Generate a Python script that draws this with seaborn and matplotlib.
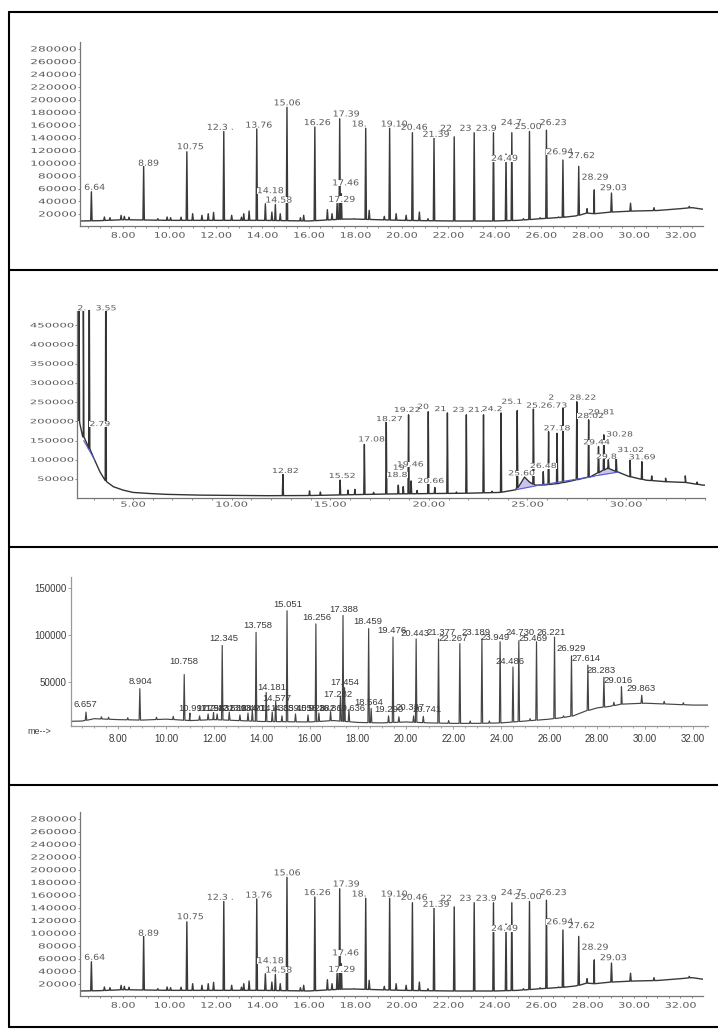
import numpy as np
import pandas as pd
import matplotlib
matplotlib.use("Agg")
import matplotlib.pyplot as plt
import matplotlib.patheffects as pe
from matplotlib.transforms import Affine2D, ScaledTranslation
from matplotlib.lines import Line2D
from matplotlib.patches import Rectangle
from matplotlib.ticker import MultipleLocator
import seaborn as sns

# ======================= DATA =======================
# ---- Panel 1 (and identical panel 4) ----
A_xticks = [8, 10, 12, 14, 16, 18, 20, 22, 24, 26, 28, 30, 32]
A_yticks = [20000, 40000, 60000, 80000, 100000, 120000, 140000, 160000,
            180000, 200000, 220000, 240000, 260000, 280000]
A_base_t = [6.15, 7.0, 8.0, 10.0, 12.0, 14.0, 16.0, 17.5, 18.0, 20.0, 22.0, 24.0,
            25.0, 26.0, 27.0, 27.5, 28.0, 28.3, 29.0, 30.0, 31.0, 32.0, 32.5, 32.97]
A_base_v = [9000, 9500, 11000, 10000, 10000, 10000, 9000, 12000, 12000, 10000, 9000, 9000,
            10000, 12600, 15000, 17000, 21500, 20500, 23000, 24700, 25500, 28400, 30000, 27500]
A_peak_t = [6.64, 8.89, 10.75, 12.34, 13.76, 14.13, 14.56, 15.06, 16.26, 17.22, 17.33, 17.40,
            18.45, 19.48, 20.46, 21.39, 22.26, 23.12, 23.95, 24.49, 24.74, 25.50, 26.23,
            26.94, 27.62, 28.29, 29.03, 29.85]
A_peak_h = [55000, 96000, 118000, 150000, 154000, 36000, 35000, 188000, 157000, 38000, 170000,
            52000, 155000, 155000, 148000, 142000, 141500, 148000, 148000, 114500, 148000,
            150000, 152000, 105000, 95000, 58000, 53000, 37000]
A_minor_t = [7.2, 7.44, 7.92, 8.06, 8.26, 9.5, 9.9, 10.05, 10.5, 11.0, 11.4, 11.67, 11.9,
             12.68, 13.1, 13.2, 13.43, 14.41, 14.77, 15.64, 15.78, 16.8, 17.0, 17.95, 18.6,
             19.25, 19.76, 20.19, 20.76, 21.13, 25.24, 25.96, 26.75, 27.98, 30.86, 32.38]
A_minor_h = [15300, 14200, 17900, 16300, 15000, 12600, 15300, 14200, 15000, 20500, 18000,
             20500, 22600, 18000, 15000, 20500, 24700, 23000, 20500, 14200, 18000, 26800,
             20500, 12600, 25800, 16300, 20500, 18000, 23000, 12600, 12600, 14200, 15300,
             28400, 30000, 32000]
A_lab_txt = ["6.64", "8.89", "10.75", "12.3 .", "13.76", "15.06", "16.26", "17.39", "14.18",
             "14.58", "17.46", "17.29", "18.", "19.10", "20.46", "21.39", "22", "23", "23.9",
             "24.7", "25.00", "26.23", "24.49", "26.94", "27.62", "28.29", "29.03"]
A_lab_t = [6.78, 9.09, 10.89, 12.18, 13.84, 15.06, 16.36, 17.60, 14.34, 14.70, 17.58, 17.41,
           18.16, 19.67, 20.53, 21.47, 21.90, 22.74, 23.63, 24.71, 25.43, 26.51, 24.42, 26.80,
           27.73, 28.31, 29.10]
A_lab_y = [62000, 100000, 126000, 156500, 160000, 195000, 164000, 177500, 56700, 42000,
           69000, 43000, 161700, 161700, 156500, 145500, 155000, 155000, 155000, 164000,
           157800, 164000, 107700, 118000, 112000, 78000, 61400]

# ---- Panel 2 ----
B_xticks = [5, 10, 15, 20, 25, 30]
B_yticks = [50000, 100000, 150000, 200000, 250000, 300000, 350000, 400000, 450000]
B_base_t = [2.16, 2.3, 2.48, 2.73, 2.98, 3.32, 3.66, 4.0, 4.5, 5.0, 5.9, 6.7, 8.4, 11.8, 14.0,
            16.0, 18.0, 20.0, 22.0, 23.6, 24.4, 24.65, 24.85, 25.1, 25.4, 25.75, 26.55, 27.4,
            28.2, 28.7, 29.05, 29.55, 30.2, 31.0, 32.0, 33.0, 33.9, 34.0]
B_base_v = [220000, 195000, 160000, 134000, 108000, 69000, 43000, 30000, 21000, 15000, 12000,
            10000, 8000, 6500, 7000, 9000, 11000, 12000, 13000, 15000, 22000, 38000, 55000,
            42000, 34000, 34000, 38000, 47000, 56000, 69000, 78000, 69000, 56000, 47000, 43000,
            41000, 34000, 34000]
B_peak_t = [2.26, 2.48, 2.78, 3.62, 12.6, 13.95, 14.5, 15.5, 15.9, 16.25, 16.73, 17.2, 17.84,
            18.45, 18.7, 18.97, 19.1, 19.4, 19.97, 20.3, 20.94, 21.4, 21.9, 22.77, 23.2, 23.66,
            24.48, 25.3, 25.8, 26.07, 26.5, 26.8, 27.5, 28.1, 28.6, 28.87, 29.1, 29.5, 30.2,
            30.8, 31.3, 32.0, 33.0, 33.6]
B_peak_h = [600000, 600000, 600000, 600000, 62000, 19000, 16000, 47000, 21000, 23000, 140000,
            15000, 208000, 34000, 30000, 217000, 45000, 20000, 225000, 28000, 222000, 16000,
            217000, 217000, 18000, 222000, 228000, 232000, 69000, 173000, 169000, 247000,
            251000, 204000, 134000, 165000, 100000, 108000, 103000, 95000, 58000, 52000, 58000,
            42000]
B_lab_txt = ["2.", "3.55", "2.79", "12.82", "15.52", "17.08", "18.27", "19.22", "20", "21",
             "23", "21.", "24.2", "25.1", "25.", "26.73", "2", "28.22", "27.18", "28.02",
             "29.81", "30.28", "29.44", "31.02", "29.8", "31.69", "25.60", "26.48", "19.46",
             "19", "18.8", "20.66"]
B_lab_t = [2.4, 3.63, 3.32, 12.72, 15.6, 17.1, 18.0, 18.9, 19.7, 20.58, 21.5, 22.36, 23.2,
           24.2, 25.3, 26.34, 26.2, 27.8, 26.5, 28.2, 28.75, 29.67, 28.5, 30.23, 29.0, 30.82,
           24.7, 25.8, 19.06, 18.47, 18.39, 20.1]
B_lab_y = [494500, 494500, 193000, 70800, 57800, 153000, 206000, 229700, 238000, 232000,
           229700, 229700, 232000, 251000, 241000, 241000, 261700, 261700, 182000, 214000,
           223600, 166000, 145500, 125500, 108000, 106500, 64800, 84000, 88000, 79500, 60400,
           44800]
# blue integration baselines: (t0, v0, t1, v1)
B_blue = [(2.50, 150000, 3.05, 100000), (24.4, 22000, 25.5, 33000),
          (25.5, 33000, 28.4, 57000), (28.4, 58000, 29.6, 68000)]
B_blue_fill = [False, True, False, True]

# ---- Panel 3 ----
C_xticks = [8, 10, 12, 14, 16, 18, 20, 22, 24, 26, 28, 30, 32]
C_yticks = [50000, 100000, 150000]
C_base_t = [6.03, 6.5, 7.0, 8.0, 9.0, 10.0, 11.0, 12.0, 13.0, 14.0, 16.0, 17.0, 18.0, 19.0,
            20.0, 21.0, 22.0, 23.0, 24.0, 25.0, 26.0, 26.5, 27.0, 27.5, 28.0, 28.5, 29.0, 30.0,
            31.0, 32.0, 32.63]
C_base_v = [8200, 8500, 11000, 10000, 9500, 10500, 9000, 10000, 9000, 8000, 7500, 9000, 7000,
            6500, 7500, 6500, 6000, 6000, 6500, 8500, 10500, 12000, 14000, 19000, 22500, 24000,
            26500, 27500, 26500, 25500, 25500]
C_peak_t = [6.657, 8.904, 10.758, 12.345, 13.758, 14.181, 14.577, 15.051, 16.256, 17.282,
            17.388, 17.454, 18.459, 19.476, 20.443, 21.377, 22.267, 23.189, 23.949, 24.486,
            24.730, 25.469, 26.221, 26.929, 27.614, 28.283, 29.016, 29.863]
C_peak_h = [18000, 43000, 58000, 89000, 103000, 39000, 30000, 126000, 112000, 35000, 121000,
            44000, 107000, 98000, 96000, 96000, 91000, 96000, 93000, 66000, 94000, 93000, 98000,
            78000, 68000, 55000, 45000, 36000]
C_minor_t = [7.3, 7.6, 8.4, 9.6, 10.3, 10.997, 11.4, 11.756, 11.983, 12.132, 12.639, 13.084,
             13.421, 13.601, 14.433, 14.839, 15.405, 15.928, 16.382, 16.869, 17.636, 18.564,
             19.290, 19.722, 20.337, 20.741, 21.8, 22.7, 23.5, 25.2, 26.6, 28.7, 30.8, 31.6]
C_minor_h = [13000, 12500, 12000, 12500, 13500, 17000, 14000, 16000, 17500, 16000, 18000,
             15000, 17000, 20000, 18000, 14000, 16000, 15000, 17000, 18500, 21000, 22000,
             14000, 13000, 14000, 13500, 9000, 8500, 8500, 11000, 14000, 28500, 29500, 28000]
C_lab_txt = ["6.657", "8.904", "10.758", "12.345", "13.758", "14.181", "14.577", "15.051",
             "16.256", "17.282", "17.388", "17.454", "18.459", "19.476", "20.443", "21.377",
             "22.267", "23.189", "23.949", "24.486", "24.730", "25.469", "26.221", "26.929",
             "27.614", "28.283", "29.016", "29.863"]
C_lab_t = [6.62, 8.92, 10.72, 12.39, 13.85, 14.41, 14.62, 15.06, 16.29, 17.19, 17.40, 17.47,
           18.44, 19.42, 20.39, 21.50, 21.99, 22.96, 23.73, 24.35, 24.77, 25.33, 26.09, 26.93,
           27.55, 28.18, 28.87, 29.85]
C_lab_y = [26000, 50700, 72000, 96000, 110000, 44700, 33000, 133000, 119000, 37000, 127000,
           50000, 114600, 105000, 101500, 103000, 96800, 102500, 98000, 72000, 102500, 96800,
           103000, 85500, 75500, 62500, 51800, 43000]
C_small_txt = ["10.997", "11.756", "11.983", "12.132", "12.639", "13.084", "13.421", "13.601",
               "14.433", "14.839", "15.405", "15.928", "16.382", "16.869", "17.636", "18.564",
               "19.290", "20.337", "20.741"]
C_small_t = [11.1, 11.85, 12.08, 12.23, 12.74, 13.18, 13.52, 13.7, 14.53, 14.94, 15.5, 16.03,
             16.48, 16.97, 17.73, 18.45, 19.3, 20.2, 20.9]
C_small_y = [21500, 21500, 21500, 21500, 21500, 21500, 21500, 21500, 21500, 21500, 21500,
             21500, 21500, 21500, 21500, 28700, 20500, 22500, 20500]

# ======================= HELPERS =======================
W, H = 718, 1029


class Stretch(pe.AbstractPathEffect):
    """Widen glyphs horizontally (imitates the wide scanned bitmap font)."""
    def __init__(self, sx=1.3, anchor="center"):
        super().__init__()
        self.sx = sx
        self.anchor = anchor

    def draw_path(self, renderer, gc, tpath, affine, rgbFace=None):
        v = tpath.vertices
        if len(v):
            x0, x1 = float(v[:, 0].min()), float(v[:, 0].max())
        else:
            x0 = x1 = 0.0
        cx = {"left": x0, "right": x1}.get(self.anchor, 0.5 * (x0 + x1))
        tr = Affine2D().translate(-cx, 0).scale(self.sx, 1).translate(cx, 0) + affine
        renderer.draw_path(gc, tpath, tr, rgbFace)


def build_trace(base_t, base_v, pk_t, pk_h, half=0.03):
    bt = np.asarray(base_t, float)
    bv = np.asarray(base_v, float)
    rows = list(zip(base_t, base_v))
    for t, h in zip(pk_t, pk_h):
        foot = float(np.interp(t, bt, bv))
        rows += [(t - half, foot), (t, max(h, foot)), (t + half, foot)]
    rows.sort(key=lambda r: r[0])
    return pd.DataFrame(rows, columns=["time", "abundance"])


def text_width_em(s):
    return sum(0.318 if c in ". " else 0.636 for c in s)


def add_ax(l, r, t, b):
    return fig.add_axes([l / W, 1 - b / H, (r - l) / W, (b - t) / H])


def base_style(ax, spine_col):
    sns.despine(ax=ax)
    for s in ("left", "bottom"):
        ax.spines[s].set_color(spine_col)
        ax.spines[s].set_linewidth(0.9)
    ax.set_xlabel("")
    ax.set_ylabel("")
    ax.grid(False)
    ax.set_facecolor("white")
    ax.patch.set_alpha(0)


sns.set_theme(style="white")
plt.rcParams["font.family"] = ["DejaVu Sans"]

fig = plt.figure(figsize=(W / 100, H / 100), dpi=100)
fig.patch.set_facecolor("white")

SCAN_TXT = "#5a5a5a"


def scan_panel(ax, xlim, ylim, xticks, minor, yticks, base_t, base_v, pk_t, pk_h,
               lab_txt, lab_t, lab_y, ytick_sx, ytick_fs, xtick_sx, xtick_fs,
               lab_fs, lab_sx, xpad, ypad, line_col):
    df = build_trace(base_t, base_v, pk_t, pk_h)
    sns.lineplot(data=df, x="time", y="abundance", sort=False, estimator=None,
                 color=line_col, linewidth=1.0, ax=ax)
    ax.set_xlim(*xlim)
    ax.set_ylim(*ylim)
    base_style(ax, "#777777")
    ax.set_xticks(xticks, labels=["%.2f" % v for v in xticks])
    ax.xaxis.set_minor_locator(MultipleLocator(minor))
    ax.set_yticks(yticks, labels=[str(v) for v in yticks])
    ax.tick_params(which="both", bottom=True, left=True, direction="out", color="#777777",
                   width=0.6, labelcolor=SCAN_TXT)
    ax.tick_params(which="major", length=1.6)
    ax.tick_params(which="minor", length=1.2, left=False)
    ax.tick_params(axis="x", labelsize=xtick_fs, pad=xpad)
    ax.tick_params(axis="y", labelsize=ytick_fs, pad=ypad)
    for lab in ax.get_yticklabels():
        lab.set_path_effects([Stretch(ytick_sx, "right")])
    for lab in ax.get_xticklabels():
        lab.set_path_effects([Stretch(xtick_sx, "center")])
    for s, x, y in zip(lab_txt, lab_t, lab_y):
        # white mask (in inches around the label anchor) that hides the peak line
        w_in = text_width_em(s) * lab_fs / 72 * lab_sx
        h_in = 0.78 * lab_fs / 72
        tr = fig.dpi_scale_trans + ScaledTranslation(x, y, ax.transData)
        ax.add_patch(Rectangle((-w_in / 2, -h_in / 2), w_in, h_in, transform=tr,
                               fc="white", ec="none", zorder=4, clip_on=False))
        ax.text(x, y, s, ha="center", va="center", fontsize=lab_fs, color=SCAN_TXT,
                path_effects=[Stretch(lab_sx)], zorder=5, clip_on=False)
    return df


# ---- Panel 1 ----
ax1 = add_ax(80, 703, 42, 226)
scan_panel(ax1, (6.15, 32.97), (1100, 290900), A_xticks, 0.5, A_yticks,
           A_base_t, A_base_v, A_peak_t + A_minor_t, A_peak_h + A_minor_h,
           A_lab_txt, A_lab_t, A_lab_y, 1.75, 5.0, 1.45, 5.5, 5.9, 1.15, 1.8, 0.8, "#3a3a3a")

# ---- Panel 2 ----
ax2 = add_ax(77, 705, 310, 498)
df2 = scan_panel(ax2, (2.16, 34.0), (500, 490000), B_xticks, 1.0, B_yticks,
                 B_base_t, B_base_v, B_peak_t, B_peak_h,
                 B_lab_txt, B_lab_t, B_lab_y, 1.9, 4.4, 1.65, 5.0, 5.0, 1.35, 1.0, 0.8,
                 "#333333")
for (t0, v0, t1, v1), fill in zip(B_blue, B_blue_fill):
    if fill:
        m = (df2["time"] >= t0) & (df2["time"] <= t1)
        xs = df2["time"][m].to_numpy()
        bl = np.interp(xs, [t0, t1], [v0, v1])
        ys = np.maximum(df2["abundance"][m].to_numpy(), bl)
        ax2.fill_between(xs, bl, ys, color="#c9c3f0", lw=0, zorder=1)
    ax2.plot([t0, t1], [v0, v1], color="#5b5bd6", lw=0.8, zorder=2.5)

# ---- Panel 3 ----
ax3 = add_ax(71, 708, 577, 726)
df3 = build_trace(C_base_t, C_base_v, C_peak_t + C_minor_t, C_peak_h + C_minor_h)
sns.lineplot(data=df3, x="time", y="abundance", sort=False, estimator=None,
             color="#454545", linewidth=0.85, ax=ax3)
ax3.set_xlim(32.63 - 26.6, 32.63)
ax3.set_ylim(3200, 162000)
base_style(ax3, "#999999")
ax3.set_xticks(C_xticks, labels=["%.2f" % v for v in C_xticks])
ax3.xaxis.set_minor_locator(MultipleLocator(0.5))
ax3.set_yticks(C_yticks, labels=[str(v) for v in C_yticks])
ax3.tick_params(which="both", bottom=True, left=True, direction="out", color="#999999",
                width=0.6, labelcolor="#3a3a3a")
ax3.tick_params(which="major", length=2.2)
ax3.tick_params(which="minor", length=1.5, left=False)
ax3.tick_params(axis="x", labelsize=7, pad=3.8)
ax3.tick_params(axis="y", labelsize=7, pad=0.8)
for lab in ax3.get_xticklabels() + ax3.get_yticklabels():
    lab.set_fontfamily("Liberation Sans")
for s, x, y in zip(C_lab_txt + C_small_txt, C_lab_t + C_small_t, C_lab_y + C_small_y):
    ax3.text(x, y, s, ha="center", va="center", fontsize=6.8, color="#3a3a3a",
             family="Liberation Sans", zorder=5, clip_on=False)
fig.text(27 / W, 1 - 731 / H, "me-->", ha="left", va="center", fontsize=6.5,
         color="#444444", family="Liberation Sans")

# ---- Panel 4 (same chromatogram as panel 1) ----
ax4 = add_ax(80, 703, 812, 996)
scan_panel(ax4, (6.15, 32.97), (1100, 290900), A_xticks, 0.5, A_yticks,
           A_base_t, A_base_v, A_peak_t + A_minor_t, A_peak_h + A_minor_h,
           A_lab_txt, A_lab_t, A_lab_y, 1.75, 5.0, 1.45, 5.5, 5.9, 1.15, 1.8, 0.8, "#3a3a3a")

# ---- table frame ----
def hline(y, x0=9, x1=718):
    fig.add_artist(Line2D([x0 / W, x1 / W], [1 - y / H, 1 - y / H],
                          transform=fig.transFigure, color="black", lw=1.5))


for yy in (12, 270, 547, 785, 1027):
    hline(yy)
fig.add_artist(Line2D([9 / W, 9 / W], [1 - 12 / H, 1 - 1027 / H],
                      transform=fig.transFigure, color="black", lw=1.5))

fig.savefig("out.png", dpi=100, facecolor="white")
